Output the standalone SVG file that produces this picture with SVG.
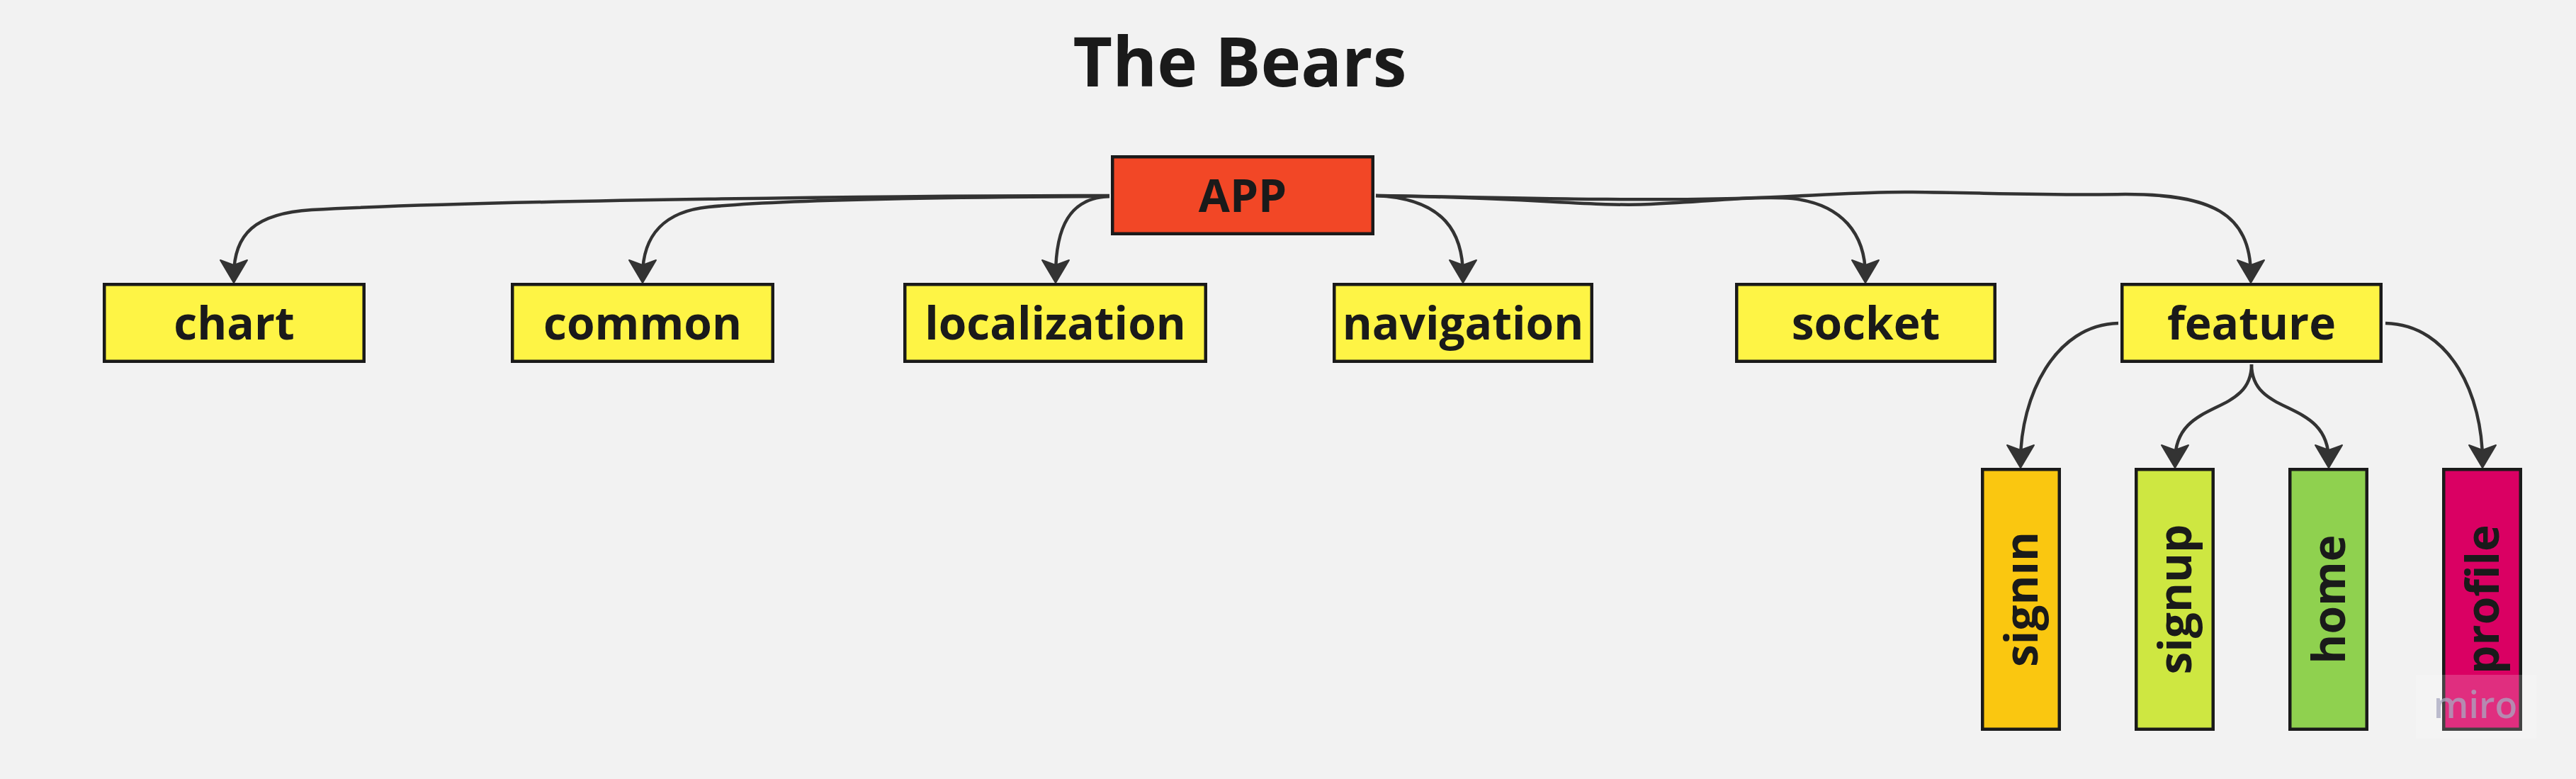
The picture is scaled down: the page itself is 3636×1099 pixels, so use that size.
<svg xmlns="http://www.w3.org/2000/svg" width="3636" height="1099" viewBox="0 0 3636 1099">
<defs>
<style>
.bg{fill:#f2f2f2}
.box{stroke:#1a1a1a;stroke-width:4.5}
.y{fill:#fef445}
.lbl{font-family:"Open Sans","Liberation Sans",sans-serif;font-weight:700;font-size:64px;fill:#1a1a1a;text-anchor:middle}
.title{font-family:"Open Sans","Liberation Sans",sans-serif;font-weight:700;font-size:96px;fill:#1a1a1a;text-anchor:middle}
.con path{fill:none;stroke:#333333;stroke-width:4.5;marker-end:url(#arr)}
</style>
<marker id="arr" markerUnits="userSpaceOnUse" viewBox="-30 -25 45 50" markerWidth="45" markerHeight="50" refX="0" refY="0" orient="auto" overflow="visible">
<path d="M10,0 L-22,-19 L-15,0 L-22,19 Z" fill="#333333" stroke="#333333" stroke-width="2" stroke-linejoin="round"/>
</marker>
</defs>
<rect class="bg" x="0" y="0" width="3636" height="1099"/>
<g id="title"><text class="title" x="1750" y="122">The Bears</text></g>
<g id="connectors" class="con">
<path d="M1566,276 C1300,276 700,282 440,296 C360,301 330,330 330,389"/>
<path d="M1566,277 C1350,278 1100,282 1000,292 C940,298 907,330 907,389"/>
<path d="M1566,277 C1510,279 1490,320 1490,389"/>
<path d="M1942,276 C2040,280 2065,330 2065,389"/>
<path d="M1942,276 C2150,278 2250,292 2330,288 C2420,284 2480,276 2530,280 C2600,288 2633,330 2633,389"/>
<path d="M1942,276 C2100,278 2300,284 2450,280 C2580,276 2620,270 2700,271 C2800,272 2900,276 3000,274 C3120,274 3177,300 3177,389"/>
<path d="M2990,456 C2900,458 2852,560 2852,650"/>
<path d="M3178,514 C3178,590 3070,560 3070,650"/>
<path d="M3178,514 C3178,590 3287,560 3287,650"/>
<path d="M3367,456 C3460,458 3504,560 3504,650"/>
</g>
<g id="app"><rect class="box" fill="#f24726" x="1570.25" y="221.25" width="367.5" height="108.5"/><text class="lbl" x="1754" y="299">APP</text></g>
<g id="chart"><rect class="box y" x="147.25" y="401.25" width="366.5" height="108.5"/><text class="lbl" x="330.5" y="479">chart</text></g>
<g id="common"><rect class="box y" x="723.25" y="401.25" width="367.5" height="108.5"/><text class="lbl" x="907" y="479">common</text></g>
<g id="localization"><rect class="box y" x="1277.25" y="401.25" width="424.5" height="108.5"/><text class="lbl" x="1489.5" y="479">localization</text></g>
<g id="navigation"><rect class="box y" x="1883.25" y="401.25" width="363.5" height="108.5"/><text class="lbl" x="2065" y="479">navigation</text></g>
<g id="socket"><rect class="box y" x="2451.25" y="401.25" width="364.5" height="108.5"/><text class="lbl" x="2633.5" y="479">socket</text></g>
<g id="feature"><rect class="box y" x="2995.25" y="401.25" width="365.5" height="108.5"/><text class="lbl" x="3178" y="479">feature</text></g>
<g id="signin"><rect class="box" fill="#fac710" x="2798.25" y="662.25" width="108.5" height="366.5"/><text class="lbl" transform="translate(2852.5,845.5) rotate(-90)" x="0" y="23">signın</text></g>
<g id="signup"><rect class="box" fill="#cee741" x="3015.25" y="662.25" width="108.5" height="366.5"/><text class="lbl" transform="translate(3069.5,845.5) rotate(-90)" x="0" y="23">signup</text></g>
<g id="home"><rect class="box" fill="#8fd14f" x="3232.25" y="662.25" width="108.5" height="366.5"/><text class="lbl" transform="translate(3286.5,845.5) rotate(-90)" x="0" y="23">home</text></g>
<g id="profile"><rect class="box" fill="#da0063" x="3449.25" y="662.25" width="108.5" height="366.5"/><text class="lbl" transform="translate(3503.5,845.5) rotate(-90)" x="0" y="23">profile</text></g>
<g id="watermark"><rect x="3410" y="952" width="170" height="90" fill="#ffffff" fill-opacity="0.18"/><text x="3494" y="1013" font-family="Open Sans, Liberation Sans, sans-serif" font-weight="600" font-size="52" fill="#a8a8c0" fill-opacity="0.75" text-anchor="middle">miro</text></g>
</svg>
